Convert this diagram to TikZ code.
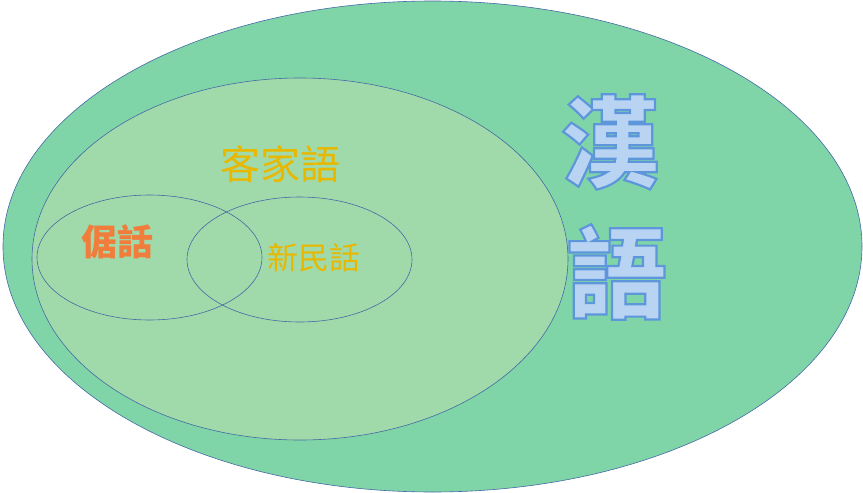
\documentclass[tikz,border=0pt]{standalone}
\usepackage{fontspec}
\newfontfamily\cjk{Noto Sans CJK TC}
\definecolor{outerg}{RGB}{127,213,167}
\definecolor{innerg}{RGB}{160,218,171}
\definecolor{edgeb}{RGB}{70,105,165}
\definecolor{goldt}{RGB}{232,184,0}
\definecolor{oranget}{RGB}{240,125,60}
\definecolor{hanb}{RGB}{185,212,242}
\newcommand{\outlinetext}[1]{\special{pdf:literal direct 2 Tr 2.2 w 0.37 0.59 0.86 RG}#1\special{pdf:literal direct 0 Tr}}
\tikzset{
  region/.style={draw=edgeb, line width=0.6pt},
  lbl/.style={inner sep=0pt, font=\cjk},
}
\begin{document}
\begin{tikzpicture}[x=1pt,y=-1pt]
\useasboundingbox (0,0) rectangle (863,493);
\path[region, fill=outerg] (432.5,246.5) ellipse [x radius=429.5, y radius=245.5];
\path[region, fill=innerg] (300,259) ellipse [x radius=268, y radius=181];
\path[region] (149.5,257.5) ellipse [x radius=112.5, y radius=62.5];
\path[region] (299.5,259.5) ellipse [x radius=112.5, y radius=62.5];
\node[lbl, text=goldt, font=\cjk\fontsize{40}{40}\selectfont] (hakka) at (280,164) {客家語};
\node[lbl, text=oranget, font=\cjk\bfseries\fontsize{36}{36}\selectfont] (geo) at (117,242) {倨話};
\node[lbl, text=goldt, font=\cjk\fontsize{31}{31}\selectfont] (xinmin) at (314,258) {新民話};
\node[lbl, text=hanb, font=\cjk\bfseries\fontsize{100}{100}\selectfont] (han) at (610,142) {\outlinetext{漢}};
\node[lbl, text=hanb, font=\cjk\bfseries\fontsize{100}{100}\selectfont] (yu) at (617,272) {\outlinetext{語}};
\end{tikzpicture}
\end{document}
